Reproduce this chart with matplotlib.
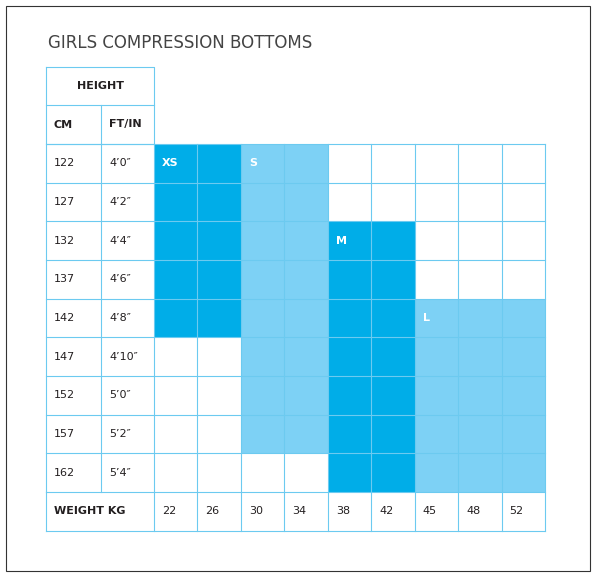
import matplotlib.pyplot as plt
from matplotlib.patches import Rectangle

heights_cm = [122, 127, 132, 137, 142, 147, 152, 157, 162]
heights_ft = ["4\u20190\u2033", "4\u20192\u2033", "4\u20194\u2033", "4\u20196\u2033", "4\u20198\u2033",
              "4\u201910\u2033", "5\u20190\u2033", "5\u20192\u2033", "5\u20194\u2033"]
weights_kg = [22, 26, 30, 34, 38, 42, 45, 48, 52]
# size name, first weight col, last weight col, first height row, last height row, shade
sizes = [
    ("XS", 0, 1, 0, 4, "dark"),
    ("S", 2, 3, 0, 7, "light"),
    ("M", 4, 5, 2, 8, "dark"),
    ("L", 6, 8, 4, 8, "light"),
]

DARK = "#00ADE8"
LIGHT = "#7DD1F5"
LINE = "#6CCAF0"
TEXT = "#231F20"

fig = plt.figure(figsize=(5.97, 5.77), dpi=100)
ax = fig.add_axes([0, 0, 1, 1])
ax.set_xlim(0, 597)
ax.set_ylim(577, 0)
ax.axis("off")

ax.add_patch(Rectangle((6, 6), 584, 565, fill=False, ec="#333333", lw=0.8))
ax.text(48, 43, "GIRLS COMPRESSION BOTTOMS", fontsize=12, color="#444444", va="center")

x0, x1, x2 = 46, 101, 154
cw = (545 - 154) / 9
y_head, y_sub, y_data = 67, 105, 144
rh = (492 - 144) / 9
y_end = y_data + rh * 10

col_x = [x2 + i * cw for i in range(10)]
row_y = [y_data + i * rh for i in range(11)]

# size blocks
for name, c0, c1, r0, r1, shade in sizes:
    color = DARK if shade == "dark" else LIGHT
    ax.add_patch(Rectangle((col_x[c0], row_y[r0]), col_x[c1 + 1] - col_x[c0],
                           row_y[r1 + 1] - row_y[r0], color=color, lw=0))
    ax.text(col_x[c0] + 8, row_y[r0] + rh / 2, name, color="white", fontsize=8,
            fontweight="bold", va="center")

lw = 0.8
# header lines
ax.plot([x0, x2, x2, x0, x0], [y_head, y_head, y_data, y_data, y_head], color=LINE, lw=lw)
ax.plot([x0, x2], [y_sub, y_sub], color=LINE, lw=lw)
ax.plot([x1, x1], [y_sub, y_data], color=LINE, lw=lw)
# body grid
for y in row_y:
    ax.plot([x0, 545], [y, y], color=LINE, lw=lw)
for x in [x0, x1] :
    ax.plot([x, x], [y_data, row_y[9]], color=LINE, lw=lw)
ax.plot([x0, x0], [row_y[9], y_end], color=LINE, lw=lw)
for x in col_x:
    ax.plot([x, x], [y_data, y_end], color=LINE, lw=lw)

ax.text((x0 + x2) / 2, (y_head + y_sub) / 2, "HEIGHT", fontsize=8, fontweight="bold",
        color=TEXT, ha="center", va="center")
ax.text(x0 + 8, (y_sub + y_data) / 2, "CM", fontsize=8, fontweight="bold", color=TEXT, va="center")
ax.text(x1 + 8, (y_sub + y_data) / 2, "FT/IN", fontsize=8, fontweight="bold", color=TEXT, va="center")

for i, (cm, ft) in enumerate(zip(heights_cm, heights_ft)):
    yc = row_y[i] + rh / 2
    ax.text(x0 + 8, yc, str(cm), fontsize=8, color=TEXT, va="center")
    ax.text(x1 + 8, yc, ft, fontsize=8, color=TEXT, va="center")

yc = row_y[9] + rh / 2
ax.text(x0 + 8, yc, "WEIGHT KG", fontsize=8, fontweight="bold", color=TEXT, va="center")
for i, w in enumerate(weights_kg):
    ax.text(col_x[i] + 8, yc, str(w), fontsize=8, color=TEXT, va="center")

fig.savefig("out.png", dpi=100)
